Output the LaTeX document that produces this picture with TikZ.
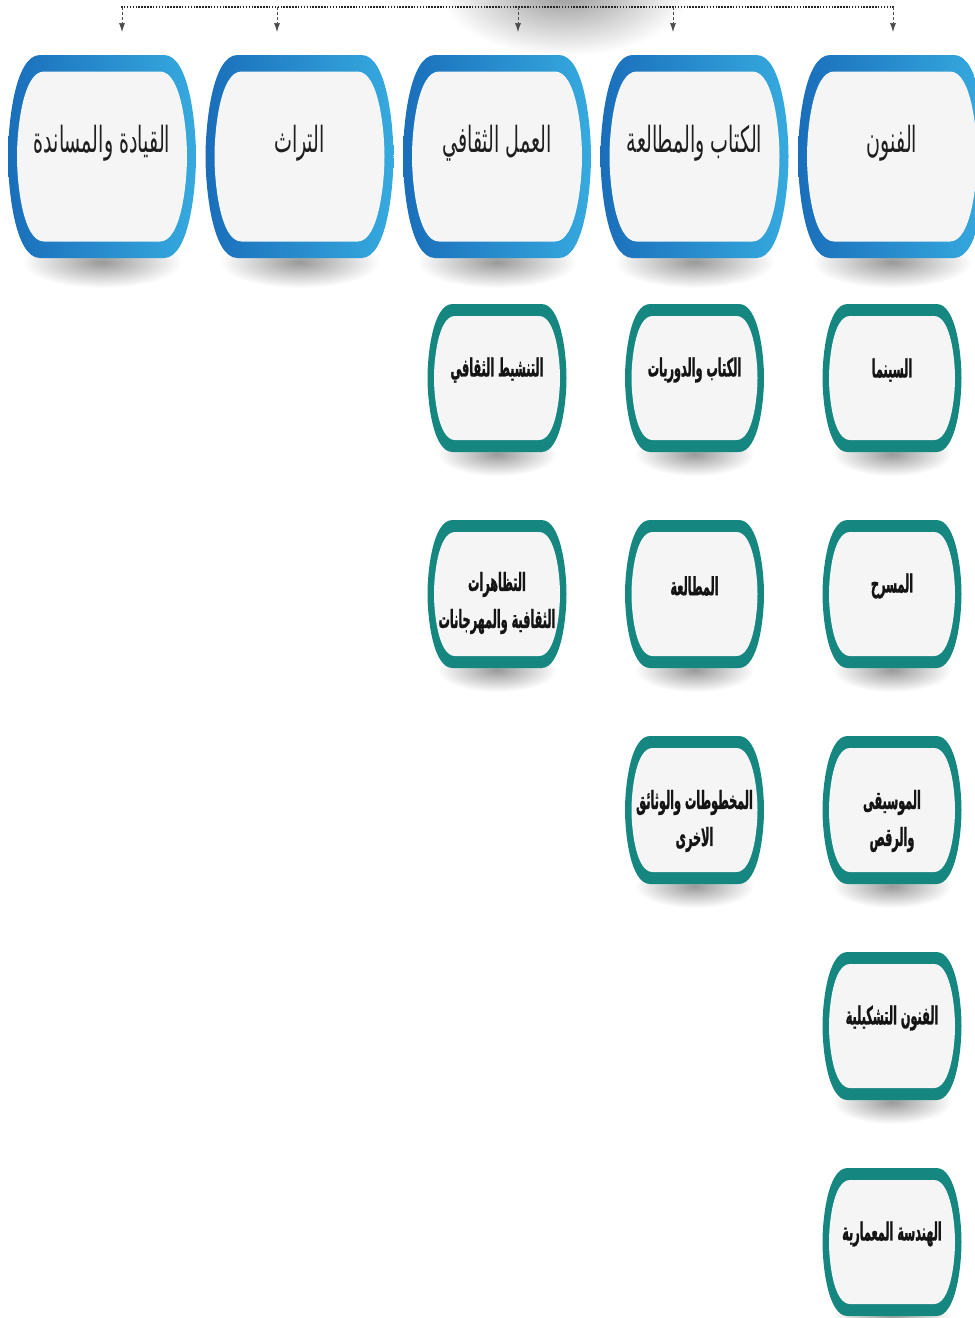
\documentclass[tikz,border=0pt]{standalone}
\usepackage{fontspec}
\usepackage{xcolor}
\usepackage{tikz}
\usetikzlibrary{arrows.meta}
\TeXXeTstate=1
\newfontfamily\arabicfont[Script=Arabic,FakeStretch=0.53]{DejaVu Sans}
\newfontfamily\arabicsub[Script=Arabic,FakeStretch=0.45,FakeBold=1]{DejaVu Sans}

\definecolor{blueL}{RGB}{26,110,186}
\definecolor{blueR}{RGB}{54,170,223}
\definecolor{tealB}{RGB}{22,134,128}
\definecolor{boxfill}{RGB}{245,245,245}

% barrel outline: half width, half height, corner
\newcommand{\barrel}[3]{(-#1+#3,-#2) -- (#1-#3,-#2) .. controls (#1-0.2*#3,-#2) and (#1,-0.3*#2) .. (#1,0) .. controls (#1,0.3*#2) and (#1-0.2*#3,#2) .. (#1-#3,#2) -- (-#1+#3,#2) .. controls (-#1+0.2*#3,#2) and (-#1,0.3*#2) .. (-#1,0) .. controls (-#1,-0.3*#2) and (-#1+0.2*#3,-#2) .. cycle}

% main box: name, x, text
\newcommand{\mainbox}[3]{%
  \shade[boxshadow] (#2,262) ellipse [x radius=80, y radius=26];
  \shade[left color=blueL, right color=blueR, shift={(#2,156.5)}] \barrel{94}{101.5}{32};
  \fill[boxfill, shift={(#2,156.5)}] \barrel{85}{85}{27};
  \node[maintext] (#1) at (#2,143) {#3};
}
% sub box: [text offset], name, x, y, text
\newcommand{\subbox}[5][-8]{%
  \shade[boxshadow] (#3,{#4+76}) ellipse [x radius=60, y radius=22];
  \fill[tealB, shift={(#3,#4)}] \barrel{69.5}{74}{25};
  \fill[boxfill, shift={(#3,#4)}] \barrel{63}{62}{21};
  \node[subtext] (#2) at (#3,{#4+#1}) {#5};
}

\begin{document}
\begin{tikzpicture}[
    x=1pt, y=-1pt,
    boxshadow/.style={inner color=black!40, outer color=white},
    maintext/.style={font=\arabicfont\fontsize{36}{42}\selectfont, text=black!88, inner sep=0pt},
    subtext/.style={font=\arabicsub\bfseries\fontsize{25}{37}\selectfont, text=black!92, align=center, inner sep=0pt},
    busline/.style={line width=1.8pt, dash pattern=on 1.5pt off 1.4pt, black!85},
    droparrow/.style={densely dashed, line width=0.7pt, black!70, -{Latex[length=9pt, width=6pt]}}
]
    \useasboundingbox (0,0) rectangle (975,1318);
    \clip (0,0) rectangle (975,1318);

    % shadow of the parent box above
    \shade[inner color=black!40, outer color=white] (565,-8) ellipse [x radius=125, y radius=64];

    % bus and drops
    \coordinate (busL) at (121,7);
    \coordinate (busR) at (895,7);
    \draw[busline] (busL) -- (busR);
    \coordinate (d1) at (122,7);  \coordinate (t1) at (122,32);
    \coordinate (d2) at (277,7);  \coordinate (t2) at (277,32);
    \coordinate (d3) at (518,7);  \coordinate (t3) at (518,32);
    \coordinate (d4) at (673,7);  \coordinate (t4) at (673,32);
    \coordinate (d5) at (893,7);  \coordinate (t5) at (893,32);
    \draw[droparrow] (d1) -- (t1);
    \draw[droparrow] (d2) -- (t2);
    \draw[droparrow] (d3) -- (t3);
    \draw[droparrow] (d4) -- (t4);
    \draw[droparrow] (d5) -- (t5);

    % main boxes
    \mainbox{funun}{892}{\beginR الفنون\endR}
    \mainbox{kitab}{694.5}{\beginR الكتاب والمطالعة\endR}
    \mainbox{amal}{497}{\beginR العمل الثقافي\endR}
    \mainbox{turath}{299.5}{\beginR التراث\endR}
    \mainbox{qiyada}{102}{\beginR القيادة والمساندة\endR}

    % arts
    \subbox{sinema}{892}{378}{\beginR السينما\endR}
    \subbox{masrah}{892}{594}{\beginR المسرح\endR}
    \subbox[11]{musiqa}{892}{810}{\beginR الموسيقى\endR\\\beginR والرقص\endR}
    \subbox{tashkil}{892}{1026}{\beginR الفنون التشكيلية\endR}
    \subbox{handasa}{892}{1242}{\beginR الهندسة المعمارية\endR}

    % books and reading
    \subbox{dawriyat}{694.5}{378}{\beginR الكتاب والدوريات\endR}
    \subbox{mutalaa}{694.5}{594}{\beginR المطالعة\endR}
    \subbox[11]{makhtutat}{694.5}{810}{\beginR المخطوطات والوثائق\endR\\\beginR الاخرى\endR}

    % cultural work
    \subbox{tanshit}{497}{378}{\beginR التنشيط الثقافي\endR}
    \subbox[9]{tazahurat}{497}{594}{\beginR التظاهرات\endR\\\beginR الثقافية والمهرجانات\endR}

\end{tikzpicture}
\end{document}
